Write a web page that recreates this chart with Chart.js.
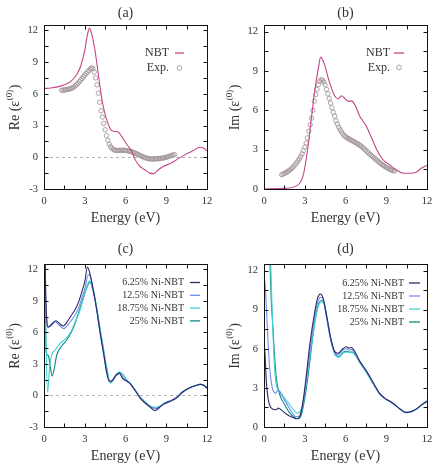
<!DOCTYPE html>
<html>
<head>
<meta charset="utf-8">
<script src="https://cdn.jsdelivr.net/npm/chart.js@4.4.1/dist/chart.umd.min.js"></script>
<style>
  body { margin: 0; background: #fff; width: 441px; height: 464px; position: relative; overflow: hidden; }
  canvas { position: absolute; }
</style>
</head>
<body>
<canvas id="pa" width="220" height="232" style="left:0;top:0"></canvas>
<canvas id="pb" width="221" height="232" style="left:220px;top:0"></canvas>
<canvas id="pc" width="220" height="232" style="left:0;top:232px"></canvas>
<canvas id="pd" width="221" height="232" style="left:220px;top:232px"></canvas>
<script>
// tick positions (labels only on multiples of 3)
const xTicks = [0, 1.5, 3, 4.5, 6, 7.5, 9, 10.5, 12];
const reTicks = [-3, -1.5, 0, 1.5, 3, 4.5, 6, 7.5, 9, 10.5, 12];
const imTicks = [0, 1.5, 3, 4.5, 6, 7.5, 9, 10.5, 12];

// ---- panel (a)/(b): NBT theory vs experiment ----
const nbtReE = [0, 0.5, 1.0, 1.5, 2.0, 2.4, 2.7, 3.0, 3.2, 3.35, 3.5, 3.7, 3.9, 4.1, 4.3, 4.6, 5.0, 5.45, 5.7, 6.1, 6.45, 6.7, 7.05, 7.45, 7.8, 8.05, 8.4, 8.8, 9.3, 9.8, 10.4, 10.9, 11.5, 11.75, 12];
const nbtRe = [6.5, 6.55, 6.65, 6.85, 7.2, 7.8, 8.6, 10.1, 11.6, 12.2, 11.7, 10.5, 8.8, 6.9, 5.2, 3.6, 2.5, 2.4, 2.0, 1.2, 0.6, -0.2, -0.85, -1.2, -1.5, -1.55, -1.2, -0.85, -0.6, -0.2, 0.25, 0.57, 0.95, 0.85, 0.62];

const nbtImE = [0, 1.0, 1.5, 2.0, 2.3, 2.6, 2.85, 3.0, 3.25, 3.5, 3.75, 4.0, 4.17, 4.45, 4.8, 5.2, 5.45, 5.7, 5.95, 6.2, 6.45, 6.7, 7.05, 7.5, 7.9, 8.3, 8.75, 9.25, 9.75, 10.25, 10.75, 11.2, 11.6, 12];
const nbtIm = [0, 0.03, 0.05, 0.1, 0.2, 0.4, 0.9, 1.6, 3.3, 5.5, 7.6, 9.2, 10.05, 9.5, 8.2, 7.1, 6.87, 7.1, 6.9, 6.68, 6.72, 6.4, 5.55, 4.85, 3.95, 3.0, 2.25, 1.85, 1.45, 1.2, 1.2, 1.27, 1.6, 1.8];

const expE = [1.3, 1.4, 1.5, 1.6, 1.7, 1.8, 1.9, 2.0, 2.1, 2.2, 2.3, 2.4, 2.5, 2.6, 2.7, 2.8, 2.9, 3.0, 3.1, 3.2,
  3.3, 3.4, 3.5, 3.6, 3.7, 3.8, 3.9, 4.0, 4.1, 4.2, 4.3, 4.4, 4.5, 4.6, 4.7, 4.8, 4.9, 5.0, 5.1, 5.2,
  5.3, 5.4, 5.5, 5.6, 5.7, 5.8, 5.9, 6.0, 6.1, 6.2, 6.3, 6.4, 6.5, 6.6, 6.7, 6.8, 6.9, 7.0, 7.1, 7.2,
  7.3, 7.4, 7.5, 7.6, 7.7, 7.8, 7.9, 8.0, 8.1, 8.2, 8.3, 8.4, 8.5, 8.6, 8.7, 8.8, 8.9, 9.0, 9.1, 9.2,
  9.3, 9.4, 9.5, 9.6];
const expRe = [6.33, 6.34, 6.36, 6.38, 6.40, 6.43, 6.46, 6.50, 6.56, 6.64, 6.75, 6.87, 7.00, 7.14, 7.29, 7.44, 7.60, 7.76, 7.92, 8.06,
  8.20, 8.34, 8.45, 8.38, 8.05, 7.50, 6.85, 6.05, 5.20, 4.40, 3.80, 3.20, 2.60, 2.05, 1.60, 1.25, 1.00, 0.85, 0.75, 0.68,
  0.65, 0.64, 0.64, 0.65, 0.66, 0.66, 0.66, 0.65, 0.63, 0.60, 0.57, 0.54, 0.50, 0.45, 0.39, 0.34, 0.28, 0.22, 0.15, 0.09,
  0.03, -0.02, -0.07, -0.10, -0.13, -0.15, -0.16, -0.16, -0.16, -0.15, -0.15, -0.14, -0.12, -0.10, -0.08, -0.06, -0.03, 0.00, 0.04, 0.08,
  0.13, 0.18, 0.22, 0.25];
const expIm = [1.09, 1.13, 1.18, 1.24, 1.30, 1.37, 1.45, 1.54, 1.63, 1.74, 1.86, 2.00, 2.15, 2.30, 2.47, 2.68, 2.92, 3.20, 3.50, 3.90,
  4.40, 4.90, 5.40, 6.00, 6.70, 7.20, 7.60, 7.95, 8.20, 8.32, 8.30, 8.15, 7.95, 7.60, 7.25, 6.90, 6.55, 6.20, 5.85, 5.55,
  5.20, 4.95, 4.72, 4.52, 4.36, 4.20, 4.08, 3.98, 3.91, 3.85, 3.79, 3.73, 3.68, 3.62, 3.56, 3.50, 3.44, 3.37, 3.30, 3.22,
  3.13, 3.04, 2.94, 2.84, 2.74, 2.64, 2.55, 2.46, 2.37, 2.28, 2.20, 2.11, 2.02, 1.94, 1.86, 1.79, 1.72, 1.65, 1.59, 1.53,
  1.48, 1.44, 1.40, 1.37];

// ---- panel (c): Re, Ni-doped ----
const re625E = [0.05, 0.12, 0.2, 0.3, 0.5, 0.85, 1.1, 1.4, 1.7, 2.0, 2.3, 2.55, 2.8, 3.0, 3.2, 3.4, 3.65, 3.9, 4.15, 4.4, 4.6, 4.8, 5.05, 5.3, 5.55, 5.8, 6.1, 6.35, 6.7, 7.05, 7.3, 7.8, 8.15, 8.5, 8.8, 9.3, 9.75, 10.2, 10.7, 11.2, 11.5, 11.75, 12];
const re625 = [16, 10, 7.2, 6.5, 6.7, 7.1, 6.9, 6.6, 7.0, 7.6, 8.2, 8.9, 9.9, 10.8, 12.2, 11.5, 9.9, 8.0, 5.8, 3.9, 2.3, 1.35, 1.45, 1.9, 2.1, 1.6, 1.35, 1.1, 0.5, -0.2, -0.55, -1.1, -1.45, -1.15, -0.85, -0.55, -0.25, 0.3, 0.7, 0.95, 1.05, 0.97, 0.68];
const re125E = [0.05, 0.12, 0.2, 0.3, 0.5, 0.85, 1.1, 1.45, 1.75, 2.05, 2.3, 2.55, 2.8, 3.0, 3.27, 3.45, 3.65, 3.9, 4.15, 4.4, 4.6, 4.85, 5.05, 5.3, 5.55, 5.8, 6.1, 6.35, 6.7, 7.05, 7.3, 7.8, 8.2, 8.5, 8.8, 9.3, 9.75, 10.2, 10.7, 11.2, 11.5, 11.75, 12];
const re125 = [16, 10, 7.2, 6.5, 6.6, 7.0, 6.7, 6.35, 6.7, 7.2, 7.7, 8.35, 9.3, 10.1, 11.5, 11.1, 9.9, 8.0, 5.8, 3.9, 2.3, 1.3, 1.45, 1.95, 2.15, 1.7, 1.4, 1.12, 0.5, -0.15, -0.5, -1.05, -1.25, -1.1, -0.8, -0.5, -0.2, 0.3, 0.72, 0.97, 1.07, 0.98, 0.7];
const re1875E = [0.05, 0.15, 0.27, 0.4, 0.55, 0.8, 1.2, 1.65, 2.0, 2.3, 2.6, 2.9, 3.1, 3.35, 3.6, 3.85, 4.1, 4.35, 4.6, 4.9, 5.2, 5.55, 5.85, 6.1, 6.35, 6.7, 7.05, 7.3, 7.8, 8.2, 8.5, 8.8, 9.3, 9.75, 10.2, 10.7, 11.2, 11.5, 11.75, 12];
const re1875 = [16, 5.0, 0.3, 2.5, 3.8, 4.3, 4.95, 5.45, 6.1, 7.0, 7.9, 9.2, 10.1, 10.9, 10.1, 8.6, 6.6, 4.7, 2.8, 1.2, 1.8, 2.25, 1.9, 1.45, 1.15, 0.5, -0.1, -0.45, -1.0, -1.15, -1.05, -0.78, -0.5, -0.2, 0.35, 0.72, 0.97, 1.07, 1.0, 0.75];
const re25E = [0.05, 0.12, 0.2, 0.32, 0.44, 0.6, 0.76, 0.93, 1.3, 1.67, 2.16, 2.4, 2.65, 3.0, 3.2, 3.38, 3.6, 3.83, 4.07, 4.32, 4.56, 4.76, 4.92, 5.23, 5.55, 5.85, 6.1, 6.35, 6.7, 7.05, 7.3, 7.8, 8.2, 8.5, 8.8, 9.3, 9.75, 10.2, 10.7, 11.2, 11.5, 11.75, 12];
const re25 = [16, 6, 3.95, 3.8, 2.9, 1.85, 2.6, 3.8, 4.7, 5.25, 6.4, 7.3, 8.3, 9.7, 10.4, 10.8, 10.0, 8.6, 6.7, 4.8, 2.9, 1.6, 1.2, 1.75, 2.2, 1.9, 1.45, 1.15, 0.5, -0.1, -0.45, -1.0, -1.15, -1.05, -0.78, -0.5, -0.2, 0.35, 0.72, 0.97, 1.07, 1.0, 0.75];

// ---- panel (d): Im, Ni-doped ----
const im625E = [0.02, 0.08, 0.17, 0.3, 0.54, 0.9, 1.05, 1.16, 1.4, 1.77, 2.14, 2.38, 2.63, 2.87, 3.12, 3.37, 3.73, 3.95, 4.15, 4.35, 4.6, 4.9, 5.2, 5.45, 5.8, 6.05, 6.25, 6.45, 6.7, 7.05, 7.55, 8.05, 8.5, 8.9, 9.3, 9.65, 10.1, 10.45, 10.85, 11.2, 11.6, 12];
const im625 = [6.2, 5.5, 3.5, 2.2, 1.45, 1.32, 1.45, 1.4, 1.2, 0.9, 0.73, 0.63, 0.81, 1.95, 4.0, 6.3, 8.8, 9.9, 10.2, 9.9, 8.6, 6.9, 5.8, 5.65, 6.0, 6.15, 6.05, 6.1, 5.75, 5.05, 4.3, 3.4, 2.6, 2.2, 1.95, 1.7, 1.32, 1.12, 1.19, 1.37, 1.7, 2.0];
const im125E = [0.02, 0.08, 0.17, 0.3, 0.42, 0.61, 0.86, 1.03, 1.28, 1.65, 2.0, 2.34, 2.6, 2.87, 3.12, 3.4, 3.75, 4.0, 4.17, 4.37, 4.6, 4.9, 5.2, 5.45, 5.8, 6.05, 6.25, 6.45, 6.7, 7.05, 7.55, 8.05, 8.5, 8.9, 9.3, 9.65, 10.1, 10.45, 10.85, 11.2, 11.6, 12];
const im125 = [11.3, 11.0, 9.3, 6.5, 4.5, 3.0, 2.6, 2.85, 2.46, 1.83, 1.2, 0.81, 0.82, 1.7, 3.6, 6.0, 8.6, 9.7, 9.95, 9.75, 8.4, 6.7, 5.7, 5.55, 5.9, 6.0, 5.9, 5.95, 5.65, 5.0, 4.25, 3.35, 2.59, 2.2, 1.95, 1.7, 1.32, 1.12, 1.19, 1.37, 1.7, 1.95];
const im1875E = [0.45, 0.6, 0.75, 0.91, 1.16, 1.53, 1.9, 2.26, 2.45, 2.75, 3.0, 3.2, 3.45, 3.8, 4.05, 4.25, 4.45, 4.65, 4.95, 5.25, 5.5, 5.85, 6.1, 6.3, 6.5, 6.75, 7.1, 7.55, 8.05, 8.5, 8.9, 9.3, 9.65, 10.1, 10.45, 10.85, 11.2, 11.6, 12];
const im1875 = [14, 9, 5, 3.2, 2.75, 2.2, 1.7, 1.2, 1.05, 1.4, 2.6, 4.0, 6.0, 8.4, 9.4, 9.6, 9.3, 8.2, 6.5, 5.5, 5.35, 5.7, 5.75, 5.7, 5.7, 5.45, 4.85, 4.15, 3.3, 2.55, 2.18, 1.93, 1.68, 1.3, 1.1, 1.18, 1.35, 1.68, 1.93];
const im25E = [0, 0.005, 0.42, 0.54, 0.66, 0.79, 0.91, 1.16, 1.53, 1.9, 2.26, 2.5, 2.75, 3.0, 3.2, 3.37, 3.6, 3.85, 4.05, 4.25, 4.45, 4.65, 4.95, 5.25, 5.5, 5.85, 6.1, 6.3, 6.5, 6.75, 7.1, 7.55, 8.05, 8.5, 8.9, 9.3, 9.65, 10.1, 10.45, 10.85, 11.2, 11.6, 12];
const im25 = [0, 20, 13.1, 9.6, 7.55, 5.26, 3.74, 2.46, 1.7, 1.07, 0.74, 0.63, 0.94, 2.2, 3.6, 5.0, 7.0, 8.7, 9.5, 9.7, 9.4, 8.3, 6.6, 5.55, 5.4, 5.75, 5.8, 5.75, 5.75, 5.5, 4.9, 4.2, 3.3, 2.55, 2.18, 1.93, 1.68, 1.3, 1.1, 1.18, 1.35, 1.68, 1.93];

const niLabels = ['6.25% Ni-NBT', '12.5% Ni-NBT', '18.75% Ni-NBT', '25% Ni-NBT'];
const niColors = ['#2f2b6b', '#6e8ef0', '#40d2d2', '#0f8882'];
const nbtColor = '#c4468a';
const expColor = '#a3969b';

const SERIF = "'Liberation Serif', 'Times New Roman', serif";
const INK = '#333';

function pts(xs, ys) {
  return xs.map((x, i) => ({ x: x, y: ys[i] }));
}

function lineSet(label, xs, ys, color) {
  return {
    label: label, data: pts(xs, ys), borderColor: color, borderWidth: 1.1,
    pointRadius: 0, fill: false, cubicInterpolationMode: 'monotone'
  };
}

function expSet(ys) {
  return {
    label: 'Exp.', data: pts(expE, ys), showLine: false, pointStyle: 'circle',
    pointRadius: 2.2, borderWidth: 0.9, pointBorderColor: expColor, pointBackgroundColor: 'rgba(0,0,0,0)'
  };
}

function onStep(v, step) {
  return Math.abs(v / step - Math.round(v / step)) < 1e-6;
}

// frame, inward ticks, titles, legend
function panelPlugin(cfg) {
  return {
    id: 'panel',
    beforeDatasetsDraw(chart) {
      if (!cfg.zero) return;
      const a = chart.chartArea, ctx = chart.ctx;
      const y0 = Math.round(chart.scales.y.getPixelForValue(0)) + 0.5;
      ctx.save();
      ctx.strokeStyle = '#b4b4b4';
      ctx.lineWidth = 1;
      ctx.setLineDash([3, 3]);
      ctx.beginPath();
      ctx.moveTo(a.left, y0);
      ctx.lineTo(a.right, y0);
      ctx.stroke();
      ctx.restore();
    },
    afterDatasetsDraw(chart) {
      const a = chart.chartArea, ctx = chart.ctx;
      const xs = chart.scales.x, ys = chart.scales.y;
      const L = Math.round(a.left) + 0.5, R = Math.round(a.right) + 0.5;
      const T = Math.round(a.top) + 0.5, B = Math.round(a.bottom) + 0.5;
      ctx.save();
      ctx.strokeStyle = '#111';
      ctx.lineWidth = 1;
      ctx.beginPath();
      xs.ticks.forEach(t => {
        if (t.value <= 0 || t.value >= 12) return;
        const x = Math.round(xs.getPixelForValue(t.value)) + 0.5;
        ctx.moveTo(x, B); ctx.lineTo(x, B - 4);
        ctx.moveTo(x, T); ctx.lineTo(x, T + 4);
      });
      ys.ticks.forEach(t => {
        const y = Math.round(ys.getPixelForValue(t.value)) + 0.5;
        ctx.moveTo(L, y); ctx.lineTo(L + 4, y);
        ctx.moveTo(R, y); ctx.lineTo(R - 4, y);
      });
      ctx.stroke();
      ctx.strokeRect(L, T, R - L, B - T);

      // panel title and x title
      ctx.fillStyle = INK;
      ctx.textAlign = 'center';
      ctx.textBaseline = 'middle';
      ctx.font = '14px ' + SERIF;
      const cx = (a.left + a.right) / 2;
      ctx.fillText(cfg.title, cx, cfg.titleY);
      ctx.fillText('Energy (eV)', cx, a.bottom + 29);

      // y title with superscript
      ctx.save();
      ctx.translate(15, (a.top + a.bottom) / 2 + 1);
      ctx.rotate(-Math.PI / 2);
      ctx.textAlign = 'left';
      const p1 = cfg.ytitle + ' (\u03b5', p2 = '(0)', p3 = ')';
      ctx.font = '14px ' + SERIF;
      const w1 = ctx.measureText(p1).width, w3 = ctx.measureText(p3).width;
      ctx.font = '9px ' + SERIF;
      const w2 = ctx.measureText(p2).width;
      const x0 = -(w1 + w2 + w3) / 2;
      ctx.font = '14px ' + SERIF;
      ctx.fillText(p1, x0, 0);
      ctx.font = '9px ' + SERIF;
      ctx.fillText(p2, x0 + w1 + 0.5, -5);
      ctx.font = '14px ' + SERIF;
      ctx.fillText(p3, x0 + w1 + w2 + 1, 0);
      ctx.restore();

      // legend
      ctx.font = cfg.legFont + 'px ' + SERIF;
      ctx.textAlign = 'right';
      cfg.legend.forEach((it, i) => {
        const y = a.top + cfg.legY + i * cfg.legDY;
        ctx.fillStyle = INK;
        ctx.fillText(it.text, a.right - cfg.legTextR, y);
        ctx.strokeStyle = it.color;
        if (it.kind === 'circle') {
          ctx.lineWidth = 0.9;
          ctx.beginPath();
          ctx.arc(a.right - (cfg.legS0 + cfg.legS1) / 2, y, 2.4, 0, Math.PI * 2);
          ctx.stroke();
        } else {
          ctx.lineWidth = 1.3;
          ctx.beginPath();
          ctx.moveTo(a.right - cfg.legS0, y);
          ctx.lineTo(a.right - cfg.legS1, y);
          ctx.stroke();
        }
      });
      ctx.restore();
    }
  };
}

function makePanel(id, cfg) {
  const canvas = document.getElementById(id);
  const tickFont = { family: SERIF, size: 10.5 };
  const label = v => onStep(v, 3) ? String(Math.round(v)) : '';
  return new Chart(canvas, {
    type: 'line',
    data: { datasets: cfg.datasets },
    options: {
      responsive: false,
      animation: false,
      devicePixelRatio: 1,
      layout: { padding: { top: cfg.top, right: canvas.width - cfg.right, left: 0, bottom: 0 } },
      plugins: { legend: { display: false }, tooltip: { enabled: false } },
      scales: {
        x: {
          type: 'linear', min: 0, max: 12,
          afterBuildTicks: s => { s.ticks = xTicks.map(v => ({ value: v })); },
          afterFit: s => { s.height = canvas.height - cfg.bottom; },
          grid: { display: false, drawTicks: false },
          border: { display: false },
          ticks: { autoSkip: false, maxRotation: 0, padding: 5.5, color: INK, font: tickFont, callback: label }
        },
        y: {
          type: 'linear', min: cfg.ymin, max: 12.5,
          afterBuildTicks: s => { s.ticks = cfg.yTicks.map(v => ({ value: v })); },
          afterFit: s => { s.width = cfg.left; },
          grid: { display: false, drawTicks: false },
          border: { display: false },
          ticks: { autoSkip: false, padding: 6, color: INK, font: tickFont, callback: label }
        }
      }
    },
    plugins: [panelPlugin(cfg)]
  });
}

const abLegend = [
  { text: 'NBT', color: nbtColor, kind: 'line' },
  { text: 'Exp.', color: expColor, kind: 'circle' }
];
const niLegend = niLabels.map((t, i) => ({ text: t, color: niColors[i], kind: 'line' }));

makePanel('pa', {
  title: '(a)', titleY: 13, ytitle: 'Re', ymin: -3, yTicks: reTicks, zero: true,
  left: 44, right: 207, top: 25, bottom: 189,
  legend: abLegend, legFont: 12, legY: 28, legDY: 15, legTextR: 38, legS0: 32, legS1: 23,
  datasets: [lineSet('NBT', nbtReE, nbtRe, nbtColor), expSet(expRe)]
});

makePanel('pb', {
  title: '(b)', titleY: 13, ytitle: 'Im', ymin: 0, yTicks: imTicks, zero: false,
  left: 44, right: 207, top: 25, bottom: 189,
  legend: abLegend, legFont: 12, legY: 28, legDY: 14.5, legTextR: 37, legS0: 33, legS1: 23,
  datasets: [lineSet('NBT', nbtImE, nbtIm, nbtColor), expSet(expIm)]
});

makePanel('pc', {
  title: '(c)', titleY: 17, ytitle: 'Re', ymin: -3, yTicks: reTicks, zero: true,
  left: 44, right: 207, top: 32, bottom: 195,
  legend: niLegend, legFont: 10, legY: 18.5, legDY: 12.8, legTextR: 23, legS0: 17, legS1: 7,
  datasets: [
    lineSet(niLabels[0], re625E, re625, niColors[0]),
    lineSet(niLabels[1], re125E, re125, niColors[1]),
    lineSet(niLabels[2], re1875E, re1875, niColors[2]),
    lineSet(niLabels[3], re25E, re25, niColors[3])
  ]
});

makePanel('pd', {
  title: '(d)', titleY: 17, ytitle: 'Im', ymin: 0, yTicks: imTicks, zero: false,
  left: 44, right: 207, top: 32, bottom: 195,
  legend: niLegend, legFont: 10, legY: 19, legDY: 13, legTextR: 23, legS0: 18, legS1: 7,
  datasets: [
    lineSet(niLabels[0], im625E, im625, niColors[0]),
    lineSet(niLabels[1], im125E, im125, niColors[1]),
    lineSet(niLabels[2], im1875E, im1875, niColors[2]),
    lineSet(niLabels[3], im25E, im25, niColors[3])
  ]
});
</script>
</body>
</html>
